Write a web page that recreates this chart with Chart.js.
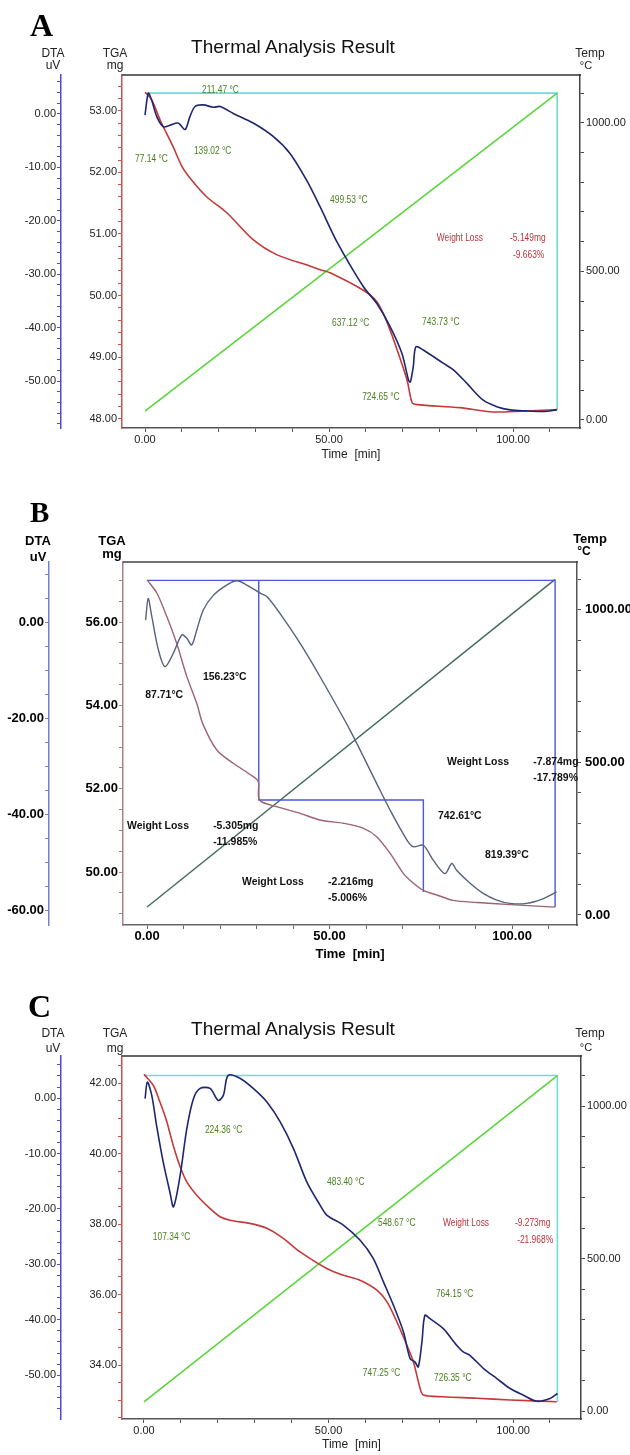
<!DOCTYPE html>
<html>
<head>
<meta charset="utf-8">
<script src="https://cdn.jsdelivr.net/npm/chart.js@4.4.0/dist/chart.umd.min.js"></script>
<style>
  html, body { margin: 0; padding: 0; background: #fff; }
  #page { position: relative; width: 630px; height: 1455px; overflow: hidden; font-family: "Liberation Sans", Arial, sans-serif; }
  canvas { position: absolute; left: 0; }
  .lbl { position: absolute; white-space: nowrap; line-height: 1; color: #222; }
  .mid { transform: translateX(-50%); }
  .letter { font-family: "Liberation Serif", "Times New Roman", serif; font-weight: bold; color: #000; }
  .bold { font-weight: bold; color: #000; }
</style>
</head>
<body>
<div id="page">
  <canvas id="chartA" width="630" height="480" style="top:0"></canvas>
  <canvas id="chartB" width="630" height="490" style="top:480px"></canvas>
  <canvas id="chartC" width="630" height="485" style="top:970px"></canvas>

  <!-- panel A -->
  <div class="lbl letter" style="left:30px;top:9px;font-size:32px">A</div>
  <div class="lbl mid" style="left:293px;top:37px;font-size:19px;color:#111">Thermal Analysis Result</div>
  <div class="lbl mid" style="left:53px;top:47px;font-size:12px">DTA</div>
  <div class="lbl mid" style="left:53px;top:59px;font-size:12px">uV</div>
  <div class="lbl mid" style="left:115px;top:47px;font-size:12px">TGA</div>
  <div class="lbl mid" style="left:115px;top:59px;font-size:12px">mg</div>
  <div class="lbl mid" style="left:590px;top:47px;font-size:12px">Temp</div>
  <div class="lbl mid" style="left:586px;top:60px;font-size:11px">°C</div>

  <!-- panel B -->
  <div class="lbl letter" style="left:30px;top:498px;font-size:29px">B</div>
  <div class="lbl mid bold" style="left:38px;top:534px;font-size:13px">DTA</div>
  <div class="lbl mid bold" style="left:38px;top:550px;font-size:13px">uV</div>
  <div class="lbl mid bold" style="left:112px;top:534px;font-size:13px">TGA</div>
  <div class="lbl mid bold" style="left:112px;top:547px;font-size:13px">mg</div>
  <div class="lbl mid bold" style="left:590px;top:532px;font-size:13px">Temp</div>
  <div class="lbl mid bold" style="left:584px;top:545px;font-size:12px">°C</div>

  <!-- panel C -->
  <div class="lbl letter" style="left:28px;top:990px;font-size:32px">C</div>
  <div class="lbl mid" style="left:293px;top:1019px;font-size:19px;color:#111">Thermal Analysis Result</div>
  <div class="lbl mid" style="left:53px;top:1027px;font-size:12px">DTA</div>
  <div class="lbl mid" style="left:53px;top:1042px;font-size:12px">uV</div>
  <div class="lbl mid" style="left:115px;top:1027px;font-size:12px">TGA</div>
  <div class="lbl mid" style="left:115px;top:1042px;font-size:12px">mg</div>
  <div class="lbl mid" style="left:590px;top:1027px;font-size:12px">Temp</div>
  <div class="lbl mid" style="left:586px;top:1042px;font-size:11px">°C</div>
</div>

<script>
// ---------- panel A ----------
const aTgaTime = [0, 1.8, 4.1, 7.6, 10.1, 13.0, 16.8, 22.3, 29.3, 35.9, 44.8, 47.6, 50.3, 59.2, 63.0, 65.8, 68.5, 71.2, 72.6, 73.9, 85.6, 94.6, 112];
const aTgaMass = [53.30, 53.18, 52.85, 52.42, 52.09, 51.85, 51.60, 51.34, 50.91, 50.66, 50.48, 50.42, 50.37, 50.09, 49.90, 49.56, 49.12, 48.63, 48.26, 48.23, 48.18, 48.11, 48.15];
const aDtaTime = [0, 0.9, 1.8, 3.2, 5.0, 6.8, 9.0, 10.9, 12.2, 13.6, 15.8, 18.6, 20.4, 24.0, 29.4, 34.9, 39.4, 43.9, 47.6, 51.9, 59.3, 63.0, 66.6, 69.8, 71.6, 72.1, 72.9, 73.6, 75.6, 81.1, 83.8, 87.4, 91.9, 95.6, 99.2, 103.5, 108.2, 111.9];
const aDtaVal = [-0.2, 3.9, 2.6, -0.5, -2.4, -2.1, -1.7, -2.9, -0.5, 1.4, 1.7, 1.25, 1.4, 0.1, -1.7, -4.25, -7.4, -12.4, -17.4, -23.6, -32.3, -35.5, -39.8, -44.8, -49.8, -50.2, -47.3, -43.6, -44.2, -46.7, -47.9, -50.4, -53.6, -54.8, -55.4, -55.6, -55.7, -55.4];
const aTempTime = [0, 112];
const aTempVal = [30, 1100];
const aProgTime = [0, 112, 112];
const aProgVal = [1100, 1100, 34];
const aNotes = [
  ['211.47 °C', 15.5, 1111], ['77.14 °C', -2.7, 879], ['139.02 °C', 13.3, 906], ['499.53 °C', 50.3, 738],
  ['637.12 °C', 50.8, 326], ['743.73 °C', 75.3, 329], ['724.65 °C', 59.0, 77]
];
const aLoss = [['Weight Loss', 79.3, 611], ['-5.149mg', 99.2, 611], ['-9.663%', 100, 554]];

// ---------- panel B ----------
const bTgaTime = [0, 2.7, 5.4, 8.1, 10.9, 13.6, 15.3, 19.1, 23.6, 29.1, 30.5, 30.8, 35.5, 41.9, 47.4, 53.8, 59.3, 62.9, 66.6, 70.2, 73.0, 75.7, 79.4, 83.9, 90.3, 99.5, 111.8];
const bTgaMass = [57.01, 56.69, 56.13, 55.49, 54.69, 54.05, 53.55, 52.93, 52.61, 52.29, 52.17, 51.73, 51.57, 51.41, 51.25, 51.17, 51.05, 50.85, 50.45, 49.97, 49.73, 49.56, 49.45, 49.32, 49.27, 49.22, 49.16];
const bDtaTime = [-0.4, 0.3, 1.3, 3.1, 4.9, 7.2, 9.5, 10.9, 12.2, 13.6, 15.4, 18.2, 21.8, 24.6, 27.3, 31.0, 32.8, 36.4, 41.9, 47.4, 55.6, 62.9, 66.6, 71.2, 73.0, 75.7, 78.4, 81.6, 83.5, 84.8, 88.5, 92.1, 95.8, 99.5, 104.0, 108.6, 112.2];
const bDtaVal = [0.4, 4.9, 1.1, -5.8, -9.3, -6.5, -2.7, -3.4, -4.8, -1.7, 2.5, 5.6, 7.7, 8.6, 7.7, 6.0, 5.3, 1.8, -4.4, -11.4, -22.5, -33.6, -39.2, -45.4, -46.8, -46.5, -49.6, -52.4, -50.3, -51.7, -54.4, -56.5, -57.9, -58.6, -58.6, -57.6, -56.2];
const bTempTime = [0, 111.8];
const bTempVal = [26, 1100];
const bStepOuterTime = [0, 111.8, 111.8];
const bStepOuterMass = [57.0, 57.0, 49.16];
const bStepInnerTime = [30.6, 30.6, 75.7, 75.7];
const bStepInnerMass = [57.0, 51.73, 51.73, 49.52];
const bNotes = [
  ['156.23°C', 15.3, 780], ['87.71°C', -0.5, 721],
  ['Weight Loss', -5.5, 292], ['-5.305mg', 18.1, 292], ['-11.985%', 18.1, 239],
  ['Weight Loss', 26.0, 108], ['-2.216mg', 49.6, 108], ['-5.006%', 49.6, 56],
  ['Weight Loss', 82.2, 502], ['-7.874mg', 105.8, 502], ['-17.789%', 105.8, 449],
  ['742.61°C', 79.7, 325], ['819.39°C', 92.6, 197]
];

// ---------- panel C ----------
const cTgaTime = [0, 2.5, 4.3, 6.2, 7.9, 9.8, 11.6, 14.3, 17.9, 20.6, 23.3, 28.7, 33.3, 37.8, 42.3, 49.5, 54.0, 58.5, 63.1, 65.8, 68.5, 71.2, 73.0, 74.8, 75.7, 81.1, 90.2, 99.2, 111.8];
const cTgaMass = [42.25, 41.94, 41.47, 40.90, 40.24, 39.63, 39.20, 38.82, 38.44, 38.21, 38.11, 38.02, 37.88, 37.59, 37.21, 36.74, 36.55, 36.41, 36.13, 35.80, 35.23, 34.57, 34.09, 33.34, 33.15, 33.10, 33.06, 33.01, 32.96];
const cDtaTime = [0.3, 0.9, 2.1, 3.4, 5.2, 7.0, 8.0, 9.8, 11.6, 13.4, 15.2, 17.9, 20.1, 21.5, 22.8, 26.0, 29.6, 33.3, 36.9, 40.5, 44.1, 47.7, 49.5, 54.0, 58.5, 62.1, 64.9, 67.6, 70.3, 72.1, 73.4, 74.3, 75.3, 76.1, 77.5, 81.1, 84.7, 86.5, 88.3, 92.0, 95.6, 99.2, 102.8, 106.4, 110.0, 112.0];
const cDtaVal = [-0.1, 2.9, 0.5, -4.9, -11.5, -16.9, -19.6, -13.9, -5.5, -0.1, 1.75, 1.75, -0.4, 0.5, 4.1, 3.6, 1.75, -0.7, -4.3, -9.1, -15.1, -19.3, -21.1, -22.9, -25.6, -28.9, -33.2, -37.4, -42.2, -47.0, -47.6, -48.5, -44.0, -39.2, -39.8, -41.6, -44.6, -45.8, -46.4, -48.8, -50.6, -52.4, -53.6, -54.7, -54.2, -53.3];
const cTempTime = [0, 112];
const cTempVal = [30, 1100];
const cProgTime = [0, 112, 112];
const cProgVal = [1100, 1100, 30];
const cNotes = [
  ['224.36 °C', 16.5, 921], ['107.34 °C', 2.4, 570], ['483.40 °C', 49.6, 751], ['548.67 °C', 63.4, 616],
  ['764.15 °C', 79.1, 384], ['747.25 °C', 59.3, 125], ['726.35 °C', 78.6, 108]
];
const cLoss = [['Weight Loss', 81.0, 616], ['-9.273mg', 100.5, 616], ['-21.968%', 101.1, 561]];

// ---------- helpers ----------
const zip = (xs, ys) => xs.map((x, i) => ({ x: x, y: ys[i] }));

function line(xs, ys, axis, color, width, tension) {
  return {
    data: zip(xs, ys),
    yAxisID: axis,
    borderColor: color,
    borderWidth: width,
    tension: tension,
    pointRadius: 0,
    fill: false
  };
}

function isMajor(v, major) {
  const r = v / major;
  return Math.abs(r - Math.round(r)) < 1e-6;
}

function axis(o) {
  return {
    type: 'linear',
    position: o.position,
    weight: o.weight || 0,
    min: o.min,
    max: o.max,
    // regular ticks every step, labels only on the major ones
    afterBuildTicks: (s) => {
      const list = [];
      for (let k = Math.ceil(o.min / o.step - 1e-9); k * o.step <= o.max + 1e-9; k++) {
        list.push({ value: +(k * o.step).toFixed(6) });
      }
      s.ticks = list;
    },
    afterFit: (s) => { if (s.isHorizontal()) s.height = o.size; else s.width = o.size; },
    border: { display: true, color: o.line, width: 1.5 },
    grid: { display: true, drawOnChartArea: false, drawTicks: true, tickLength: 4, color: o.line },
    ticks: {
      autoSkip: false,
      maxRotation: 0,
      padding: o.pad,
      color: o.text,
      font: o.font,
      callback: (v) => (isMajor(v, o.major) ? v.toFixed(2) : '')
    },
    title: o.title
      ? { display: true, text: o.title, color: o.text, font: o.titleFont, padding: { top: 0, bottom: o.titlePad } }
      : { display: false }
  };
}

function frame(color) {
  return {
    id: 'frame',
    afterDraw(chart) {
      const { ctx, chartArea: a } = chart;
      ctx.save();
      ctx.strokeStyle = color;
      ctx.lineWidth = 1.5;
      ctx.beginPath();
      ctx.moveTo(a.left, a.top);
      ctx.lineTo(a.right + 1, a.top);
      ctx.stroke();
      ctx.restore();
    }
  };
}

function notes(groups) {
  return {
    id: 'notes',
    afterDatasetsDraw(chart) {
      const { ctx, scales } = chart;
      ctx.save();
      ctx.textBaseline = 'middle';
      ctx.textAlign = 'left';
      for (const g of groups) {
        ctx.font = g.font;
        ctx.fillStyle = g.color;
        for (const [text, t, v] of g.items) {
          const px = scales.x.getPixelForValue(t);
          const py = scales.temp.getPixelForValue(v);
          ctx.save();
          ctx.translate(px, py);
          ctx.scale(g.squeeze, 1);
          ctx.fillText(text, 0, 0);
          ctx.restore();
        }
      }
      ctx.restore();
    }
  };
}

function thermal(id, top, datasets, scales, plugins) {
  return new Chart(document.getElementById(id), {
    type: 'line',
    data: { datasets: datasets },
    options: {
      responsive: false,
      animation: false,
      layout: { padding: { top: top, left: 0, right: 0, bottom: 0 } },
      plugins: { legend: { display: false }, tooltip: { enabled: false } },
      scales: scales
    },
    plugins: plugins
  });
}

const thin = { family: '"Liberation Sans", Arial, sans-serif', size: 11 };
const thinTitle = { family: '"Liberation Sans", Arial, sans-serif', size: 12 };
const heavy = { family: '"Liberation Sans", Arial, sans-serif', size: 13, weight: 'bold' };

// ---------- chart A ----------
thermal('chartA', 75, [
  line(aDtaTime, aDtaVal, 'dta', '#1f2670', 1.6, 0.3),
  line(aTgaTime, aTgaMass, 'tga', '#c4393a', 1.6, 0.3),
  line(aTempTime, aTempVal, 'temp', '#5ad63a', 1.6, 0),
  line(aProgTime, aProgVal, 'temp', '#6fdbe0', 1.6, 0)
], {
  x: axis({ position: 'bottom', min: -6.25, max: 118.2, step: 10, major: 50, size: 52, line: '#555', text: '#222', font: thin, pad: 1, title: 'Time  [min]', titleFont: thinTitle, titlePad: 18 }),
  dta: axis({ position: 'left', weight: 1, min: -58.8, max: 7.3, step: 2, major: 10, size: 61, line: '#4b4bd8', text: '#222', font: thin, pad: 1 }),
  tga: axis({ position: 'left', weight: 0, min: 47.85, max: 53.58, step: 0.2, major: 1, size: 61, line: '#c25454', text: '#222', font: thin, pad: 1 }),
  temp: axis({ position: 'right', min: -27, max: 1161, step: 100, major: 500, size: 50, line: '#444', text: '#222', font: thin, pad: 2 })
}, [frame('#333'), notes([
  { items: aNotes, font: '10px "Liberation Sans", Arial, sans-serif', color: '#4a7f1f', squeeze: 0.84 },
  { items: aLoss, font: '10px "Liberation Sans", Arial, sans-serif', color: '#b8333a', squeeze: 0.84 }
])]);

// ---------- chart B ----------
thermal('chartB', 82, [
  line(bDtaTime, bDtaVal, 'dta', '#56617f', 1.4, 0.3),
  line(bTgaTime, bTgaMass, 'tga', '#9d6372', 1.4, 0.3),
  line(bStepOuterTime, bStepOuterMass, 'tga', '#4a58dc', 1.4, 0),
  line(bStepInnerTime, bStepInnerMass, 'tga', '#4a58dc', 1.4, 0),
  line(bTempTime, bTempVal, 'temp', '#3f6b55', 1.4, 0)
], {
  x: axis({ position: 'bottom', min: -6.6, max: 117.8, step: 10, major: 50, size: 45, line: '#666', text: '#000', font: heavy, pad: 0, title: 'Time  [min]', titleFont: heavy, titlePad: 8 }),
  dta: axis({ position: 'left', weight: 1, min: -63.1, max: 12.5, step: 5, major: 20, size: 49, line: '#7282d2', text: '#000', font: heavy, pad: 1 }),
  tga: axis({ position: 'left', weight: 0, min: 48.73, max: 57.44, step: 0.5, major: 2, size: 74, line: '#a48484', text: '#000', font: heavy, pad: 1 }),
  temp: axis({ position: 'right', min: -33, max: 1157, step: 100, major: 500, size: 53, line: '#555', text: '#000', font: heavy, pad: 4 })
}, [frame('#444'), notes([
  { items: bNotes, font: 'bold 11px "Liberation Sans", Arial, sans-serif', color: '#111', squeeze: 0.95 }
])]);

// ---------- chart C ----------
thermal('chartC', 86, [
  line(cDtaTime, cDtaVal, 'dta', '#1f2670', 1.6, 0.3),
  line(cTgaTime, cTgaMass, 'tga', '#c4393a', 1.6, 0.3),
  line(cTempTime, cTempVal, 'temp', '#5ad63a', 1.6, 0),
  line(cProgTime, cProgVal, 'temp', '#6fdbe0', 1.6, 0)
], {
  x: axis({ position: 'bottom', min: -5.96, max: 118.4, step: 10, major: 50, size: 36, line: '#555', text: '#222', font: thin, pad: 1, title: 'Time  [min]', titleFont: thinTitle, titlePad: 3 }),
  dta: axis({ position: 'left', weight: 1, min: -57.9, max: 7.6, step: 2, major: 10, size: 61, line: '#4b4bd8', text: '#222', font: thin, pad: 1 }),
  tga: axis({ position: 'left', weight: 0, min: 32.47, max: 42.77, step: 0.5, major: 2, size: 61, line: '#c25454', text: '#222', font: thin, pad: 1 }),
  temp: axis({ position: 'right', min: -26, max: 1164, step: 100, major: 500, size: 49, line: '#444', text: '#222', font: thin, pad: 2 })
}, [frame('#333'), notes([
  { items: cNotes, font: '10px "Liberation Sans", Arial, sans-serif', color: '#4a7f1f', squeeze: 0.84 },
  { items: cLoss, font: '10px "Liberation Sans", Arial, sans-serif', color: '#b8333a', squeeze: 0.84 }
])]);
</script>
</body>
</html>
